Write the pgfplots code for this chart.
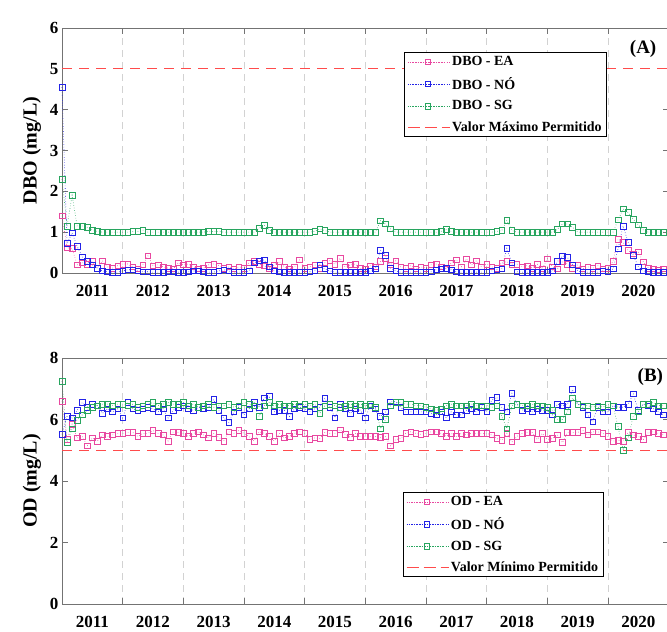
\documentclass[border=0pt]{standalone}
\usepackage{fontspec}
\setmainfont{Liberation Serif}
\usepackage{pgfplots}
\pgfplotsset{compat=1.18}
\usepackage{pgfplotstable}
\definecolor{cEA}{RGB}{232,72,160}
\definecolor{cNO}{RGB}{35,35,230}
\definecolor{cSG}{RGB}{40,165,95}
\definecolor{cLim}{RGB}{255,75,75}
\pgfplotstableread{
m dea dno dsg oea ono osg
0 1.40 4.55 2.30 6.60 5.52 7.25
1 0.62 0.72 1.15 5.35 6.10 5.25
2 0.60 0.98 1.90 5.85 6.05 5.70
3 0.20 0.65 1.15 5.40 6.30 5.98
4 0.25 0.40 1.15 5.45 6.55 6.15
5 0.22 0.28 1.12 5.15 6.40 6.30
6 0.28 0.20 1.05 5.40 6.50 6.40
7 0.12 0.12 1.02 5.30 6.45 6.45
8 0.30 0.05 1.00 5.50 6.20 6.50
9 0.15 0.03 1.00 5.45 6.35 6.50
10 0.12 0.02 1.00 5.50 6.25 6.45
11 0.18 0.02 1.00 5.55 6.35 6.50
12 0.22 0.05 1.00 5.55 6.05 6.50
13 0.22 0.08 1.00 5.58 6.55 6.45
14 0.15 0.08 1.02 5.58 6.35 6.50
15 0.10 0.05 1.02 5.45 6.30 6.40
16 0.20 0.03 1.05 5.55 6.35 6.45
17 0.42 0.03 1.00 5.55 6.40 6.50
18 0.18 0.02 1.00 5.64 6.35 6.55
19 0.20 0.02 1.00 5.55 6.25 6.45
20 0.15 0.02 1.00 5.50 6.35 6.50
21 0.12 0.03 1.00 5.30 6.05 6.55
22 0.10 0.03 1.00 5.60 6.30 6.50
23 0.25 0.02 1.00 5.58 6.40 6.50
24 0.20 0.02 1.00 5.55 6.45 6.55
25 0.22 0.03 1.00 5.45 6.35 6.45
26 0.15 0.05 1.00 5.55 6.30 6.50
27 0.10 0.05 1.00 5.60 6.40 6.40
28 0.12 0.03 1.00 5.50 6.35 6.45
29 0.20 0.02 1.02 5.40 6.40 6.50
30 0.22 0.02 1.02 5.55 6.65 6.40
31 0.18 0.05 1.02 5.42 6.30 6.45
32 0.12 0.08 1.00 5.30 6.05 6.45
33 0.15 0.05 1.00 5.60 5.90 6.50
34 0.10 0.02 1.00 5.55 6.25 6.40
35 0.15 0.02 1.00 5.64 6.40 6.45
36 0.12 0.02 1.00 5.55 6.15 6.55
37 0.25 0.05 1.00 5.45 6.35 6.50
38 0.28 0.25 1.00 5.30 6.55 6.45
39 0.22 0.30 1.10 5.60 6.40 6.10
40 0.18 0.32 1.17 5.55 6.70 6.45
41 0.10 0.15 1.05 5.45 6.75 6.55
42 0.20 0.05 1.00 5.30 6.25 6.45
43 0.28 0.03 1.00 5.55 6.30 6.50
44 0.15 0.02 1.00 5.40 6.30 6.45
45 0.10 0.02 1.00 5.45 6.10 6.45
46 0.15 0.02 1.00 5.55 6.35 6.50
47 0.32 0.02 1.00 5.60 6.40 6.45
48 0.12 0.02 1.00 5.55 6.35 6.50
49 0.15 0.03 1.00 5.35 6.25 6.45
50 0.20 0.05 1.02 5.40 6.35 6.50
51 0.12 0.20 1.08 5.38 6.40 6.20
52 0.25 0.10 1.04 5.58 6.69 6.45
53 0.30 0.05 1.00 5.55 6.40 6.50
54 0.22 0.02 1.00 5.55 6.06 6.45
55 0.36 0.02 1.00 5.67 6.50 6.40
56 0.15 0.02 1.00 5.52 6.35 6.45
57 0.20 0.02 1.00 5.42 6.20 6.50
58 0.22 0.02 1.00 5.55 6.35 6.45
59 0.12 0.02 1.00 5.45 6.30 6.50
60 0.10 0.02 1.00 5.45 6.06 6.45
61 0.18 0.05 1.00 5.45 6.45 6.50
62 0.15 0.10 1.00 5.45 6.35 6.40
63 0.28 0.56 1.28 5.42 6.10 5.70
64 0.36 0.44 1.20 5.45 6.25 6.00
65 0.20 0.12 1.08 5.14 6.58 6.45
66 0.30 0.05 1.00 5.35 6.58 6.55
67 0.15 0.02 1.00 5.38 6.40 6.55
68 0.12 0.02 1.00 5.55 6.25 6.50
69 0.18 0.02 1.00 5.60 6.25 6.50
70 0.10 0.02 1.00 5.55 6.25 6.45
71 0.15 0.02 1.00 5.52 6.25 6.45
72 0.12 0.02 1.00 5.55 6.25 6.40
73 0.20 0.03 1.00 5.60 6.20 6.35
74 0.22 0.08 1.00 5.60 6.15 6.30
75 0.15 0.10 1.02 5.55 6.25 6.35
76 0.10 0.12 1.07 5.45 6.06 6.45
77 0.25 0.08 1.02 5.55 6.25 6.50
78 0.32 0.03 1.00 5.45 6.15 6.45
79 0.15 0.02 1.00 5.55 6.15 6.45
80 0.35 0.02 1.00 5.50 6.30 6.45
81 0.20 0.02 1.00 5.55 6.35 6.50
82 0.30 0.02 1.00 5.55 6.25 6.45
83 0.15 0.02 1.00 5.55 6.40 6.45
84 0.22 0.02 1.00 5.55 6.25 6.45
85 0.15 0.05 1.00 5.50 6.63 6.40
86 0.12 0.08 1.02 5.38 6.72 6.45
87 0.25 0.10 1.04 5.33 6.40 6.10
88 0.28 0.60 1.29 5.55 6.25 5.70
89 0.20 0.25 1.04 5.27 6.85 6.45
90 0.22 0.03 1.00 5.45 6.50 6.50
91 0.15 0.02 1.00 5.55 6.30 6.45
92 0.18 0.02 1.00 5.58 6.35 6.45
93 0.12 0.02 1.00 5.58 6.25 6.50
94 0.22 0.02 1.00 5.35 6.35 6.45
95 0.10 0.02 1.00 5.55 6.30 6.45
96 0.35 0.02 1.00 5.35 6.30 6.40
97 0.15 0.05 1.00 5.38 6.15 6.30
98 0.10 0.28 1.07 5.50 6.50 6.00
99 0.28 0.42 1.20 5.25 6.45 6.00
100 0.22 0.38 1.20 5.58 6.50 6.25
101 0.12 0.20 1.12 5.58 6.98 6.70
102 0.20 0.05 1.00 5.58 6.50 6.50
103 0.10 0.02 1.00 5.65 6.40 6.45
104 0.15 0.02 1.00 5.50 6.15 6.45
105 0.12 0.02 1.00 5.60 5.93 6.40
106 0.18 0.02 1.00 5.60 6.40 6.45
107 0.10 0.05 1.00 5.55 6.25 6.40
108 0.12 0.03 1.00 5.45 6.25 6.50
109 0.29 0.10 1.00 5.30 6.45 6.45
110 0.83 0.59 1.30 5.32 6.40 5.77
111 0.75 1.15 1.57 5.30 6.40 5.00
112 0.55 0.75 1.48 5.58 6.50 5.40
113 0.47 0.44 1.32 5.50 6.83 6.10
114 0.52 0.15 1.18 5.45 6.30 6.25
115 0.27 0.05 1.05 5.35 6.50 6.50
116 0.12 0.03 1.00 5.58 6.45 6.50
117 0.10 0.02 1.00 5.60 6.35 6.55
118 0.08 0.02 1.00 5.55 6.25 6.45
119 0.10 0.02 1.00 5.50 6.15 6.45
}\data

\pgfplotsset{
  panel/.style={
    scale only axis, width=606.6bp, xmin=0, xmax=120, clip=false,
    axis line style={black!55, line width=0.8pt},
    tick style={black!55, line width=0.8pt},
    tick align=inside, major tick length=6bp,
    xtick={12,24,...,108}, xticklabels={},
    xmajorgrids=true,
    grid style={gray!35, line width=0.6pt, dash pattern=on 7bp off 5bp},
    extra x ticks={6,18,30,42,54,66,78,90,102,114},
    extra x tick labels={2011,2012,2013,2014,2015,2016,2017,2018,2019,2020},
    extra x tick style={major tick length=0pt, grid=none, xticklabel style={yshift=-9bp}},
    ticklabel style={font=\bfseries\fontsize{17bp}{20bp}\selectfont},
    /pgf/number format/assume math mode=true,
    ylabel style={font=\bfseries\fontsize{20bp}{24bp}\selectfont, at={(axis description cs:-0.0495,0.5)}, anchor=center},
    legend cell align=left,
    legend style={draw=black, line width=0.9pt, font=\bfseries\fontsize{14bp}{17bp}\selectfont, anchor=north west, inner xsep=3bp, inner ysep=2bp, row sep=6bp},
    legend image post style={line width=0.6pt},
    legend image code/.code={\path (0bp,0bp) -- (42bp,0bp);\draw[mark repeat=2,mark phase=2,##1] plot coordinates {(2bp,0bp)(20bp,0bp)(38bp,0bp)};},
  },
  sEA/.style={cEA, dotted, line width=0.6pt, mark=square, mark size=2.8bp, mark options={solid}},
  sNO/.style={cNO, dotted, line width=0.6pt, mark=square, mark size=2.8bp, mark options={solid}},
  sSG/.style={cSG, dotted, line width=0.6pt, mark=square, mark size=2.8bp, mark options={solid}},
  sLim/.style={cLim, line width=1pt, dash pattern=on 10bp off 7bp},
}

\begin{document}
\begin{tikzpicture}
\useasboundingbox (0,0) rectangle (667bp,632bp);
\begin{axis}[panel, at={(62bp,359bp)}, anchor=south west, height=245bp,
  ymin=0, ymax=6, ytick={0,1,2,3,4,5,6},
  ylabel={DBO (mg/L)},
  legend style={at={(axis description cs:0.564,0.902)}}]
\addplot[sEA] table[x=m, y=dea] {\data};
\addlegendentry{DBO - EA}
\addplot[sNO] table[x=m, y=dno] {\data};
\addlegendentry{DBO - NÓ}
\addplot[sSG] table[x=m, y=dsg] {\data};
\addlegendentry{DBO - SG}
\addplot[sLim] coordinates {(0,5) (120,5)};
\addlegendentry{Valor Máximo Permitido}
\node[font=\bfseries\fontsize{19bp}{22bp}\selectfont] at (axis description cs:0.958,0.914) {(A)};
\end{axis}
\begin{axis}[panel, at={(62bp,28bp)}, anchor=south west, height=246bp,
  ymin=0, ymax=8, ytick={0,2,4,6,8},
  ylabel={OD (mg/L)},
  legend style={at={(axis description cs:0.562,0.455)}}]
\addplot[sEA] table[x=m, y=oea] {\data};
\addlegendentry{OD - EA}
\addplot[sNO] table[x=m, y=ono] {\data};
\addlegendentry{OD - NÓ}
\addplot[sSG] table[x=m, y=osg] {\data};
\addlegendentry{OD - SG}
\addplot[sLim] coordinates {(0,5) (120,5)};
\addlegendentry{Valor Mínimo Permitido}
\node[font=\bfseries\fontsize{19bp}{22bp}\selectfont] at (axis description cs:0.970,0.924) {(B)};
\end{axis}
\end{tikzpicture}
\end{document}
